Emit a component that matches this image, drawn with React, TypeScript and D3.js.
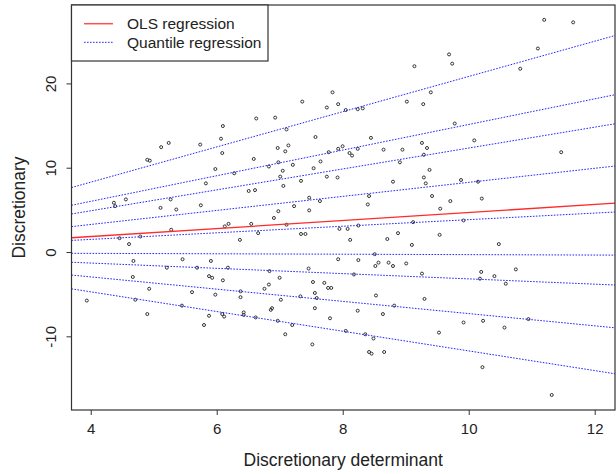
import React, { useEffect, useRef } from "react";
import * as d3 from "d3";

// discretionary determinant (x) and discretionary (y)
const determinant = [
  5.11, 5.23, 5.73, 6.09, 6.06, 6.62, 6.92, 7.1, 6.96, 7.13, 7.35, 7.56, 7.83, 7.74, 7.92, 7.92,
  8.04, 8.23, 8.31, 8.44, 7.99, 8.23, 8.64, 8.94, 9.01, 9.13, 9.27, 9.39, 9.25, 9.33, 9.68, 9.73,
  9.77, 10.08, 10.81, 11.09, 11.19, 11.65, 4.89, 4.93, 6.08, 5.97, 6.27, 6.58, 6.82, 6.97, 7.08,
  7.04, 7.2, 7.0, 7.05, 7.33, 7.53, 7.64, 7.74, 7.91, 7.77, 5.82, 6.5, 6.6, 4.36, 4.38, 4.55, 5.1,
  5.26, 5.35, 5.74, 6.97, 6.9, 7.22, 7.46, 7.63, 7.46, 6.54, 6.18, 6.12, 7.1, 6.65, 5.27, 4.45,
  4.78, 4.6, 6.36, 7.33, 7.4, 7.94, 4.67, 5.45, 5.9, 5.2, 5.68, 6.17, 6.83, 7.45, 7.92, 4.66, 5.87,
  5.92, 6.09, 6.99, 7.52, 7.7, 7.76, 7.81, 6.82, 6.75, 4.92, 3.93, 4.7, 4.89, 5.44, 5.6, 5.97, 5.79,
  5.87, 6.08, 6.11, 6.37, 6.37, 6.42, 6.42, 6.61, 7.01, 6.85, 6.87, 6.96, 7.08, 7.19, 7.32, 7.55,
  7.58, 7.55, 7.51, 7.79, 8.1, 8.14, 9.28, 8.9, 8.79, 9.37, 9.28, 9.31, 9.87, 10.14, 11.46, 8.41,
  8.39, 9.41, 9.7, 10.2, 9.54, 9.11, 9.91, 8.07, 8.24, 8.11, 8.7, 8.87, 9.53, 9.09, 10.47, 8.5,
  8.24, 8.51, 8.56, 8.72, 8.79, 9.0, 8.17, 9.25, 10.19, 10.17, 10.4, 10.74, 10.58, 8.52, 9.29,
  8.23, 8.81, 8.63, 9.91, 10.22, 10.56, 10.94, 8.04, 8.35, 8.48, 9.52, 8.41, 8.45, 8.65, 10.21,
  11.31,
];
const discretionary = [
  12.5, 13.0, 12.8, 15.0, 13.5, 15.9, 16.0, 14.6, 12.4, 12.7, 17.9, 13.7, 19.0, 17.2, 17.6, 12.3,
  16.9, 17.0, 17.1, 13.6, 12.6, 12.3, 12.2, 12.2, 17.9, 22.1, 17.6, 19.0, 13.0, 12.4, 23.5, 22.4,
  15.3, 13.3, 21.8, 24.2, 27.6, 27.3, 11.0, 10.9, 11.8, 9.9, 9.4, 11.1, 10.2, 10.7, 12.0,
  9.7, 10.4, 9.0, 7.9, 8.5, 10.0, 10.8, 9.0, 8.9, 11.9, 8.2, 7.3, 7.4, 5.9, 5.5, 6.3, 5.3,
  6.3, 5.1, 5.6, 4.9, 4.1, 5.5, 6.5, 6.1, 5.0, 3.4, 3.4, 3.1, 3.3, 2.3, 2.7, 1.7,
  1.9, 1.0, 1.5, 2.2, 2.2, 2.8, -1.0, -0.8, -1.0, -1.8, -1.8, -1.8, -2.2, -1.9, -0.8, -2.9, -2.8,
  -3.0, -3.3, -3.0, -3.5, -3.6, -4.2, -4.2, -3.8, -4.3, -4.3, -5.7, -5.6, -7.3, -6.3, -4.7, -5.0, -8.6,
  -7.5, -7.3, -7.6, -5.3, -4.6, -7.1, -7.4, -7.7, -5.6, -6.8, -6.6, -8.1, -9.7, -8.6, -5.2, -4.8,
  -5.4, -6.6, -10.9, -7.8, 11.8, 11.5, 11.6, 10.7, 8.4, 9.8, 8.9, 8.2, 8.6, 8.4, 11.9, 6.7,
  5.7, 6.7, 6.1, 6.4, 5.2, 3.6, 3.8, 2.8, 3.2, 1.5, 1.6, 2.3, 2.1, 0.9, 1.0, -0.2,
  -0.9, -1.6, -1.2, -1.2, -1.6, -1.3, -2.6, -2.5, -2.3, -3.1, -2.8, -2.0, -3.7, -5.1, -5.5,
  -6.9, -6.3, -7.3, -8.3, -8.1, -8.9, -7.9, -9.3, -9.7, -10.2, -9.5, -11.8, -12.0, -11.8, -13.6,
  -16.9,
];

// regressions through the origin: fitted slope per line
const quantileTaus = [0.9, 0.8, 0.7, 0.6, 0.5, 0.4, 0.3, 0.2, 0.1];
const quantileSlopes = [2.09, 1.52, 1.24, 0.833, 0.39, -0.025, -0.313, -0.725, -1.168];
const olsSlope = 0.475;

const xTicks = [4, 6, 8, 10, 12];
const yTicks = [-10, 0, 10, 20];
const legendLabels = ["OLS regression", "Quantile regression"];

const W = 616;
const H = 474;
const FONT = "'Liberation Sans', Arial, sans-serif";

export default function App() {
  const ref = useRef<SVGSVGElement>(null);

  useEffect(() => {
    const svg = d3.select(ref.current);
    svg.selectAll("*").remove();

    const box = { left: 71.5, top: 5, right: 615, bottom: 410 };

    const x = d3.scaleLinear().domain([3.687, 12.314]).range([box.left, box.right]);
    const y = d3.scaleLinear().domain([-18.68, 29.36]).range([box.bottom, box.top]);

    svg
      .append("rect")
      .attr("width", W)
      .attr("height", H)
      .attr("fill", "#fff");

    svg
      .append("clipPath")
      .attr("id", "plotclip")
      .append("rect")
      .attr("x", box.left)
      .attr("y", box.top)
      .attr("width", box.right - box.left)
      .attr("height", box.bottom - box.top);

    const plot = svg.append("g").attr("clip-path", "url(#plotclip)");

    // points
    plot
      .append("g")
      .selectAll("circle")
      .data(determinant.map((d, i) => [d, discretionary[i]]))
      .join("circle")
      .attr("cx", (d) => x(d[0]))
      .attr("cy", (d) => y(d[1]))
      .attr("r", 1.5)
      .attr("fill", "none")
      .attr("stroke", "#333")
      .attr("stroke-width", 1);

    const [x0, x1] = x.domain();

    // quantile lines
    plot
      .append("g")
      .selectAll("line")
      .data(quantileSlopes.map((b, i) => ({ tau: quantileTaus[i], b })))
      .join("line")
      .attr("x1", x(x0))
      .attr("x2", x(x1))
      .attr("y1", (d) => y(d.b * x0))
      .attr("y2", (d) => y(d.b * x1))
      .attr("stroke", "#2626ff")
      .attr("stroke-width", 1)
      .attr("stroke-dasharray", "1.6,1.4");

    // OLS line
    plot
      .append("line")
      .attr("x1", x(x0))
      .attr("x2", x(x1))
      .attr("y1", y(olsSlope * x0))
      .attr("y2", y(olsSlope * x1))
      .attr("stroke", "#ff2a2a")
      .attr("stroke-width", 1.3);

    // frame
    svg
      .append("rect")
      .attr("x", box.left)
      .attr("y", box.top)
      .attr("width", box.right - box.left)
      .attr("height", box.bottom - box.top)
      .attr("fill", "none")
      .attr("stroke", "#333")
      .attr("stroke-width", 1.2);

    // x axis
    const xa = svg.append("g");
    xa.selectAll("line")
      .data(xTicks)
      .join("line")
      .attr("x1", (d) => x(d))
      .attr("x2", (d) => x(d))
      .attr("y1", box.bottom)
      .attr("y2", box.bottom + 5)
      .attr("stroke", "#333");
    xa.selectAll("text")
      .data(xTicks)
      .join("text")
      .attr("x", (d) => x(d))
      .attr("y", 434)
      .attr("text-anchor", "middle")
      .attr("font-family", FONT)
      .attr("font-size", 15)
      .attr("fill", "#222")
      .text((d) => d);

    // y axis
    const ya = svg.append("g");
    ya.selectAll("line")
      .data(yTicks)
      .join("line")
      .attr("x1", box.left)
      .attr("x2", box.left - 5)
      .attr("y1", (d) => y(d))
      .attr("y2", (d) => y(d))
      .attr("stroke", "#333");
    ya.selectAll("text")
      .data(yTicks)
      .join("text")
      .attr("transform", (d) => `translate(56,${y(d)}) rotate(-90)`)
      .attr("text-anchor", "middle")
      .attr("font-family", FONT)
      .attr("font-size", 15)
      .attr("fill", "#222")
      .text((d) => d);

    // axis titles
    svg
      .append("text")
      .attr("x", (box.left + box.right) / 2)
      .attr("y", 466)
      .attr("text-anchor", "middle")
      .attr("font-family", FONT)
      .attr("font-size", 17.5)
      .attr("fill", "#222")
      .text("Discretionary determinant");
    svg
      .append("text")
      .attr("transform", `translate(25,${(box.top + box.bottom) / 2}) rotate(-90)`)
      .attr("text-anchor", "middle")
      .attr("font-family", FONT)
      .attr("font-size", 17.5)
      .attr("fill", "#222")
      .text("Discretionary");

    // legend
    const lg = svg.append("g");
    lg.append("rect")
      .attr("x", box.left)
      .attr("y", box.top)
      .attr("width", 268 - box.left)
      .attr("height", 56)
      .attr("fill", "#fff")
      .attr("stroke", "#333")
      .attr("stroke-width", 1.2);
    const rows = [
      { label: legendLabels[0], color: "#ff5050", dash: null, ly: 23.7 },
      { label: legendLabels[1], color: "#2626ff", dash: "1.6,1.4", ly: 42.3 },
    ];
    rows.forEach((r) => {
      lg.append("line")
        .attr("x1", 84)
        .attr("x2", 113)
        .attr("y1", r.ly)
        .attr("y2", r.ly)
        .attr("stroke", r.color)
        .attr("stroke-width", r.dash ? 1 : 1.5)
        .attr("stroke-dasharray", r.dash);
      lg.append("text")
        .attr("x", 127)
        .attr("y", r.ly + 5.5)
        .attr("font-family", FONT)
        .attr("font-size", 15.5)
        .attr("fill", "#222")
        .text(r.label);
    });
  }, []);

  return (
    <svg
      ref={ref}
      width={W}
      height={H}
      style={{ position: "absolute", left: 0, top: 0, display: "block" }}
    />
  );
}
